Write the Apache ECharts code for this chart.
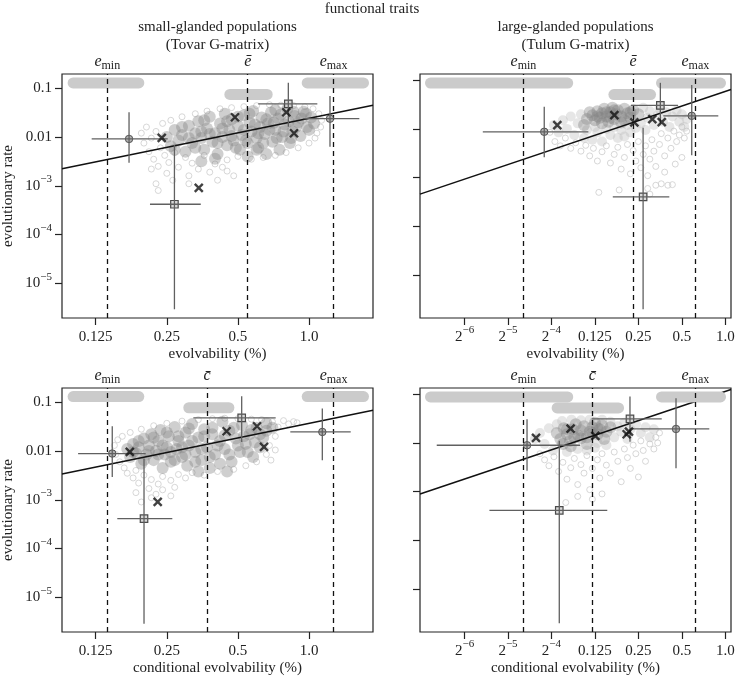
<!DOCTYPE html>
<html><head><meta charset="utf-8">
<script src="https://cdn.jsdelivr.net/npm/echarts@6/dist/echarts.min.js"></script>
<style>html,body{margin:0;padding:0;background:#fff}#c{width:744px;height:676px}</style>
</head><body><div id="c"></div>
<script>
// ---------------- data ----------------
const mainTitle = 'functional traits';
const panelTitles = [['small-glanded populations', '(Tovar G-matrix)'], ['large-glanded populations', '(Tulum G-matrix)']];
const xNames = ['evolvability (%)', 'evolvability (%)', 'conditional evolvability (%)', 'conditional evolvability (%)'];
const yName = 'evolutionary rate';

const ticksXLeft = [0.125, 0.25, 0.5, 1];
const ticksXRight = [0.015625, 0.03125, 0.0625, 0.125, 0.25, 0.5, 1];
const ticksY = [1e-5, 1e-4, 1e-3, 0.01, 0.1];

const xRangeLeft = [0.0900, 1.866];
const xRangeRight = [0.00768, 1.0947];
const yRangeLeft = [1.94e-6, 0.196];
const yRangeRight = [1.33e-6, 0.1335];

const vLabelsE = ['e_min', 'ē', 'e_max'];
const vLabelsC = ['e_min', 'c̄', 'e_max'];

// [x, y, xLow, xHigh, yLow, yHigh]
const p1Circles = [[0.173, 0.00912, 0.1202, 0.2522, 0.00298, 0.0322], [1.227, 0.02377, 0.946, 1.633, 0.00634, 0.0695]];
const p1Squares = [[0.2693, 0.000418, 0.2122, 0.3481, 2.93e-6, 0.00687], [0.8174, 0.0476, 0.6096, 1.0845, 0.0163, 0.1303]];
const p1Crosses = [[0.238, 0.00957], [0.3414, 0.000902], [0.486, 0.0254], [0.8015, 0.0322], [0.8639, 0.01194]];
const p1Fit = [[0.0900, 0.002244], [1.866, 0.0448]];
const p1VLines = [0.1378, 0.5483, 1.2675];
const p1Bands = [[0.1003, 0.1903, 0.1285], [0.4623, 0.6652, 0.0746], [0.9826, 1.701, 0.1285]];
const p1CloudCore = [[0.25,0.010],[0.26,0.0065],[0.27,0.014],[0.28,0.0085],[0.29,0.011],[0.30,0.005],[0.31,0.017],[0.32,0.0075],[0.33,0.012],[0.34,0.021],[0.35,0.0095],[0.36,0.0055],[0.37,0.015],[0.38,0.026],[0.39,0.008],[0.40,0.012],[0.41,0.0045],[0.42,0.019],[0.43,0.010],[0.44,0.030],[0.45,0.0068],[0.46,0.014],[0.47,0.023],[0.48,0.0085],[0.50,0.017],[0.51,0.0055],[0.52,0.011],[0.53,0.028],[0.55,0.0075],[0.56,0.020],[0.57,0.013],[0.58,0.034],[0.60,0.0095],[0.61,0.006],[0.62,0.016],[0.63,0.025],[0.65,0.0115],[0.66,0.0045],[0.67,0.019],[0.69,0.032],[0.70,0.008],[0.72,0.014],[0.74,0.024],[0.75,0.0055],[0.77,0.010],[0.79,0.018],[0.81,0.038],[0.83,0.0075],[0.85,0.013],[0.87,0.027],[0.90,0.020],[0.92,0.0105],[0.95,0.033],[0.98,0.016],[1.02,0.025],[1.05,0.019],[0.40,0.0036],[0.55,0.004],[0.35,0.0032],
  [0.27,0.0055],[0.29,0.016],[0.31,0.0095],[0.33,0.006],[0.35,0.013],[0.36,0.022],[0.38,0.0115],[0.41,0.0075],[0.43,0.015],[0.45,0.021],[0.47,0.0105],[0.49,0.006],[0.50,0.026],[0.53,0.014],[0.54,0.0085],[0.56,0.030],[0.59,0.018],[0.61,0.012],[0.64,0.0075],[0.66,0.023],[0.68,0.014],[0.71,0.0195],[0.73,0.0095],[0.76,0.029],[0.78,0.013],[0.82,0.021],[0.84,0.0095],[0.88,0.016],[0.93,0.024],[1.0,0.014],[0.97,0.030],[0.86,0.033],[0.72,0.036],[0.60,0.0055]];
const p1CloudHalo = [[0.195,0.012],[0.20,0.0075],[0.205,0.016],[0.21,0.005],[0.215,0.0095],[0.22,0.0035],[0.225,0.013],[0.23,0.0025],[0.235,0.0060],[0.24,0.019],[0.245,0.0042],[0.25,0.0018],[0.255,0.0030],[0.26,0.022],[0.265,0.0013],[0.27,0.0048],[0.28,0.0024],[0.29,0.026],[0.30,0.0038],[0.31,0.0016],[0.32,0.0029],[0.33,0.030],[0.34,0.0022],[0.36,0.0042],[0.37,0.034],[0.38,0.0019],[0.40,0.0028],[0.42,0.038],[0.43,0.0024],[0.45,0.0034],[0.47,0.040],[0.48,0.0016],[0.50,0.0040],[0.53,0.042],[0.57,0.0035],[0.60,0.044],[0.64,0.0038],[0.68,0.046],[0.72,0.0042],[0.76,0.045],[0.80,0.0048],[0.86,0.044],[0.90,0.0060],[0.96,0.042],[1.0,0.0075],[1.04,0.038],[1.08,0.012],[1.10,0.030],[1.13,0.022],[1.12,0.016],[1.06,0.0095],[0.215,0.0022],[0.225,0.0011],[0.23,0.0008],[0.31,0.0011],[0.41,0.0013],[0.45,0.0020]];

const p2Circles = [[0.0557, 0.00873, 0.02091, 0.1126, 0.00261, 0.02838], [0.5853, 0.01854, 0.3717, 0.8941, 0.0029, 0.079]];
const p2Squares = [[0.3549, 0.03034, 0.2222, 0.470, 0.01297, 0.0881], [0.2695, 0.000406, 0.1662, 0.4093, 2.0e-6, 0.01055]];
const p2Crosses = [[0.0686, 0.01197], [0.1704, 0.01919], [0.2343, 0.01358], [0.3121, 0.01589], [0.3628, 0.01377]];
const p2Fit = [[0.00768, 0.000461], [1.0947, 0.0644]];
const p2VLines = [0.03685, 0.2306, 0.6236];
const p2Bands = [[0.00908, 0.081, 0.0868], [0.1691, 0.3035, 0.0505], [0.3614, 0.926, 0.0868]];
const p2CloudCore = [[0.12,0.019],[0.125,0.015],[0.13,0.023],[0.135,0.017],[0.14,0.021],[0.145,0.026],[0.15,0.018],[0.155,0.014],[0.16,0.022],[0.165,0.027],[0.17,0.016],[0.175,0.020],[0.18,0.024],[0.19,0.018],[0.20,0.026],[0.21,0.021],[0.22,0.017],[0.23,0.024],[0.11,0.016],[0.115,0.022],[0.25,0.020],[0.14,0.013],[0.19,0.0135],[0.105,0.012],[0.13,0.018],[0.16,0.017],[0.17,0.024],[0.20,0.015],[0.22,0.022],[0.15,0.022]];
const p2CloudMid = [[0.065,0.012],[0.07,0.0085],[0.075,0.015],[0.08,0.010],[0.085,0.018],[0.09,0.0075],[0.095,0.013],[0.10,0.020],[0.105,0.0065],[0.11,0.0095],[0.12,0.0060],[0.125,0.011],[0.13,0.0085],[0.14,0.0055],[0.15,0.010],[0.16,0.0075],[0.17,0.011],[0.18,0.0065],[0.19,0.0095],[0.20,0.0070],[0.21,0.012],[0.22,0.0085],[0.24,0.0105],[0.26,0.013],[0.27,0.027],[0.28,0.0095],[0.29,0.017],[0.30,0.023],[0.32,0.012],[0.34,0.019],[0.35,0.026],[0.37,0.014],[0.39,0.022],[0.41,0.011],[0.43,0.018],[0.46,0.024],[0.48,0.014],[0.50,0.020],[0.52,0.011],[0.54,0.016]];
const p2CloudHalo = [[0.061,0.0085],[0.066,0.0055],[0.072,0.0045],[0.078,0.0065],[0.085,0.0040],[0.092,0.0052],[0.10,0.0035],[0.108,0.0046],[0.115,0.0028],[0.122,0.0040],[0.13,0.0022],[0.14,0.0034],[0.15,0.0045],[0.16,0.0020],[0.17,0.0030],[0.18,0.0042],[0.19,0.0015],[0.20,0.0026],[0.21,0.0048],[0.22,0.0012],[0.23,0.0036],[0.24,0.0022],[0.25,0.0055],[0.26,0.0016],[0.27,0.0030],[0.28,0.0045],[0.29,0.0011],[0.30,0.0024],[0.31,0.0060],[0.32,0.0035],[0.33,0.0017],[0.35,0.0048],[0.36,0.0080],[0.38,0.0028],[0.40,0.0065],[0.42,0.0040],[0.44,0.0090],[0.46,0.0055],[0.48,0.0075],[0.50,0.0110],[0.52,0.0065],[0.54,0.0090],[0.133,0.0005],[0.184,0.00056],[0.30,0.00046],[0.33,0.0007],[0.36,0.00075],[0.40,0.0007],[0.43,0.00072],[0.29,0.0006],[0.38,0.0013],[0.45,0.0019],[0.50,0.0026]];

const p3Circles = [[0.1469, 0.00887, 0.1053, 0.2035, 0.00294, 0.0322], [1.1385, 0.0246, 0.8334, 1.5016, 0.00646, 0.0743]];
const p3Squares = [[0.2002, 0.000411, 0.1543, 0.2638, 2.88e-6, 0.0070], [0.5188, 0.0476, 0.3238, 0.7226, 0.01535, 0.1327]];
const p3Crosses = [[0.1743, 0.00957], [0.2288, 0.000902], [0.4479, 0.0254], [0.6023, 0.0322], [0.6449, 0.0121]];
const p3Fit = [[0.0900, 0.00338], [1.866, 0.0686]];
const p3VLines = [0.1378, 0.3725, 1.2675];
const p3Bands = [[0.1003, 0.1903, 0.1309], [0.3098, 0.4579, 0.0771], [0.9826, 1.701, 0.1309]];
const p3CloudCore = [[0.17,0.011],[0.175,0.0075],[0.18,0.014],[0.185,0.009],[0.19,0.012],[0.195,0.0055],[0.20,0.018],[0.205,0.0085],[0.21,0.013],[0.215,0.022],[0.22,0.0065],[0.225,0.010],[0.23,0.016],[0.235,0.027],[0.24,0.0045],[0.245,0.0085],[0.25,0.012],[0.255,0.020],[0.26,0.0060],[0.27,0.031],[0.275,0.011],[0.28,0.016],[0.29,0.0075],[0.30,0.024],[0.305,0.0050],[0.31,0.013],[0.32,0.036],[0.33,0.0095],[0.34,0.019],[0.35,0.0065],[0.36,0.028],[0.37,0.012],[0.38,0.0045],[0.39,0.022],[0.40,0.0085],[0.42,0.016],[0.43,0.040],[0.44,0.011],[0.46,0.026],[0.47,0.0060],[0.49,0.018],[0.51,0.0095],[0.52,0.034],[0.54,0.014],[0.56,0.022],[0.58,0.0075],[0.60,0.030],[0.62,0.012],[0.64,0.019],[0.66,0.037],[0.45,0.0038],[0.34,0.0038],
  [0.18,0.0095],[0.19,0.016],[0.20,0.0065],[0.21,0.010],[0.22,0.019],[0.23,0.0085],[0.24,0.013],[0.25,0.024],[0.26,0.0095],[0.27,0.0065],[0.28,0.020],[0.29,0.012],[0.30,0.0085],[0.31,0.029],[0.32,0.016],[0.33,0.006],[0.35,0.011],[0.36,0.020],[0.38,0.0075],[0.39,0.030],[0.41,0.013],[0.42,0.0055],[0.44,0.021],[0.46,0.0085],[0.48,0.030],[0.50,0.013],[0.53,0.020],[0.55,0.0095],[0.57,0.027],[0.59,0.015],[0.62,0.022],[0.66,0.026],[0.70,0.030]];
const p3CloudHalo = [[0.150,0.013],[0.152,0.0085],[0.155,0.017],[0.158,0.0060],[0.162,0.020],[0.165,0.0045],[0.17,0.0035],[0.175,0.024],[0.18,0.0028],[0.185,0.0040],[0.19,0.0022],[0.195,0.028],[0.20,0.0032],[0.21,0.0017],[0.215,0.0026],[0.22,0.033],[0.225,0.0013],[0.23,0.0021],[0.24,0.0030],[0.25,0.037],[0.26,0.0025],[0.27,0.0018],[0.28,0.0033],[0.29,0.041],[0.30,0.0028],[0.32,0.0036],[0.34,0.044],[0.36,0.0032],[0.39,0.046],[0.41,0.0038],[0.44,0.047],[0.48,0.0042],[0.50,0.046],[0.54,0.0050],[0.57,0.045],[0.60,0.0060],[0.63,0.044],[0.66,0.0085],[0.68,0.013],[0.70,0.040],[0.72,0.020],[0.74,0.031],[0.78,0.042],[0.82,0.036],[0.86,0.040],[0.89,0.038],[0.72,0.0105],[0.69,0.0065],[0.195,0.0009],[0.185,0.0014],[0.215,0.0011],[0.24,0.0016],[0.26,0.0012]];

const p4Circles = [[0.04233, 0.00895, 0.01003, 0.0987, 0.0027, 0.03055], [0.4554, 0.0193, 0.2186, 0.7744, 0.00302, 0.0824]];
const p4Squares = [[0.2186, 0.03097, 0.1188, 0.3628, 0.01062, 0.0889], [0.0708, 0.000415, 0.02324, 0.1522, 2.0e-6, 0.01112]];
const p4Crosses = [[0.04886, 0.01265], [0.0848, 0.01958], [0.1258, 0.0139], [0.2073, 0.01503], [0.2151, 0.01702]];
const p4Fit = [[0.00768, 0.000897], [1.0947, 0.1248]];
const p4VLines = [0.03685, 0.1232, 0.6236];
const p4Bands = [[0.00908, 0.081, 0.0877], [0.0684, 0.1822, 0.0521], [0.3614, 0.926, 0.0877]];
const p4CloudCore = [[0.068,0.016],[0.072,0.012],[0.076,0.020],[0.08,0.015],[0.084,0.011],[0.088,0.019],[0.092,0.024],[0.096,0.014],[0.10,0.018],[0.105,0.022],[0.11,0.013],[0.115,0.017],[0.12,0.021],[0.125,0.026],[0.13,0.015],[0.135,0.019],[0.14,0.023],[0.15,0.017],[0.16,0.021],[0.085,0.0085],[0.11,0.0095],[0.075,0.0095],[0.145,0.012],[0.09,0.013],[0.10,0.0125],[0.12,0.016],[0.08,0.019],[0.13,0.020]];
const p4CloudMid = [[0.048,0.012],[0.052,0.016],[0.056,0.0095],[0.06,0.020],[0.064,0.0070],[0.068,0.024],[0.074,0.028],[0.08,0.0065],[0.086,0.030],[0.095,0.0075],[0.10,0.029],[0.11,0.0070],[0.115,0.030],[0.125,0.0080],[0.13,0.010],[0.14,0.030],[0.15,0.0090],[0.16,0.027],[0.17,0.013],[0.18,0.022],[0.19,0.017],[0.20,0.026],[0.21,0.012],[0.22,0.019],[0.24,0.024],[0.26,0.016],[0.28,0.021],[0.30,0.013],[0.32,0.019]];
const p4CloudHalo = [[0.052,0.0060],[0.056,0.0045],[0.06,0.0034],[0.065,0.0052],[0.07,0.0026],[0.075,0.0040],[0.08,0.0018],[0.085,0.0031],[0.09,0.0048],[0.095,0.0014],[0.10,0.0036],[0.105,0.0024],[0.11,0.0055],[0.115,0.0011],[0.12,0.0030],[0.13,0.0045],[0.135,0.0019],[0.14,0.0060],[0.15,0.0035],[0.16,0.0024],[0.17,0.0065],[0.18,0.0042],[0.19,0.0016],[0.20,0.0075],[0.21,0.0050],[0.22,0.0030],[0.23,0.0090],[0.24,0.0060],[0.25,0.0020],[0.26,0.011],[0.27,0.0070],[0.28,0.0042],[0.30,0.0095],[0.32,0.0075],[0.33,0.013],[0.35,0.016],[0.34,0.0100],[0.0785,0.0006],[0.095,0.0008],[0.14,0.0009],[0.12,0.0007]];

// ---------------- chart ----------------
const SERIF = '"Liberation Serif","DejaVu Serif",serif';
const INK = '#222';
const FS = 15;
const panels = [
  {c: p1Circles, s: p1Squares, x: p1Crosses, fit: p1Fit, v: p1VLines, vl: vLabelsE, b: p1Bands, core: p1CloudCore, mid: [], halo: p1CloudHalo, left: true},
  {c: p2Circles, s: p2Squares, x: p2Crosses, fit: p2Fit, v: p2VLines, vl: vLabelsE, b: p2Bands, core: p2CloudCore, mid: p2CloudMid, halo: p2CloudHalo, left: false},
  {c: p3Circles, s: p3Squares, x: p3Crosses, fit: p3Fit, v: p3VLines, vl: vLabelsC, b: p3Bands, core: p3CloudCore, mid: [], halo: p3CloudHalo, left: true},
  {c: p4Circles, s: p4Squares, x: p4Crosses, fit: p4Fit, v: p4VLines, vl: vLabelsC, b: p4Bands, core: p4CloudCore, mid: p4CloudMid, halo: p4CloudHalo, left: false}
];
const gridPos = [[62, 74], [420, 74], [62, 388], [420, 388]];

const richTick = {
  b: {fontFamily: SERIF, fontSize: FS, color: INK, lineHeight: 24},
  sup: {fontFamily: SERIF, fontSize: 11, color: INK, verticalAlign: 'top', lineHeight: 24}
};
function fmtX(v) {
  if (v >= 0.1) return v >= 1 ? Number(v).toFixed(1) : String(+Number(v).toPrecision(3));
  return '{b|2}{sup|−' + Math.round(-Math.log2(v)) + '}';
}
function fmtY(v) {
  if (v >= 0.009) return String(+Number(v).toPrecision(2));
  return '{b|10}{sup|−' + Math.round(-Math.log10(v)) + '}';
}
function vFmt(lbl) {
  if (lbl.indexOf('_') > 0) { const p = lbl.split('_'); return '{i|' + p[0] + '}{s|' + p[1] + '}'; }
  return '{i|' + lbl + '}';
}

const grids = [], xAxes = [], yAxes = [], series = [];
panels.forEach((p, i) => {
  grids.push({left: gridPos[i][0], top: gridPos[i][1], width: 311, height: 244, show: true,
    borderColor: INK, borderWidth: 1.2, backgroundColor: 'transparent', containLabel: false, outerBoundsMode: 'none'});
  const xt = p.left ? ticksXLeft : ticksXRight;
  const xr = p.left ? xRangeLeft : xRangeRight;
  const yr = p.left ? yRangeLeft : yRangeRight;
  xAxes.push({gridIndex: i, type: 'log', logBase: 2, min: xr[0], max: xr[1],
    axisLine: {show: false}, splitLine: {show: false},
    axisTick: {show: true, length: 7, customValues: xt, lineStyle: {color: INK, width: 1.2}},
    axisLabel: {show: true, customValues: xt, formatter: fmtX, margin: 7, fontFamily: SERIF, fontSize: FS, color: INK, lineHeight: 24, rich: richTick},
    name: xNames[i], nameLocation: 'middle', nameGap: 29, nameMoveOverlap: false,
    nameTextStyle: {fontFamily: SERIF, fontSize: FS, color: INK}});
  yAxes.push({gridIndex: i, type: 'log', logBase: 10, min: yr[0], max: yr[1],
    axisLine: {show: false}, splitLine: {show: false},
    axisTick: {show: true, length: 7, customValues: ticksY, lineStyle: {color: INK, width: 1.2}},
    axisLabel: {show: p.left, customValues: ticksY, formatter: fmtY, margin: 10, fontFamily: SERIF, fontSize: FS, color: INK, lineHeight: 24, rich: richTick},
    name: p.left ? yName : '', nameLocation: 'middle', nameGap: 46, nameMoveOverlap: false,
    nameTextStyle: {fontFamily: SERIF, fontSize: FS, color: INK}});

  const ax = {xAxisIndex: i, yAxisIndex: i};
  series.push(Object.assign({type: 'scatter', z: 1, silent: true, data: p.halo, symbol: 'circle', symbolSize: 6,
    itemStyle: {color: 'rgba(255,255,255,0)', borderColor: '#cdcdcd', borderWidth: 1}}, ax));
  if (p.mid.length) series.push(Object.assign({type: 'scatter', z: 1, silent: true, data: p.mid, symbol: 'circle', symbolSize: 10,
    itemStyle: {color: 'rgba(185,185,185,0.45)', borderWidth: 0}}, ax));
  series.push(Object.assign({type: 'scatter', z: 1, silent: true, data: p.core, symbol: 'circle', symbolSize: 12,
    itemStyle: {color: 'rgba(130,130,130,0.48)', borderWidth: 0}}, ax));
  series.push(Object.assign({type: 'line', z: 2, silent: true, data: p.fit, showSymbol: false, symbol: 'none',
    lineStyle: {color: '#111', width: 1.5},
    markLine: {silent: true, z: 4, symbol: ['none', 'none'], animation: false,
      lineStyle: {color: '#111', width: 1.3, type: [5, 4]},
      label: {show: true, position: 'end', distance: 2, color: INK,
        rich: {i: {fontFamily: SERIF, fontStyle: 'italic', fontSize: 16, color: INK, lineHeight: 20},
               s: {fontFamily: SERIF, fontSize: 12, color: INK, verticalAlign: 'bottom'}}},
      data: p.v.map((v, k) => ({xAxis: v, label: {formatter: vFmt(p.vl[k])}}))}}, ax));
  series.push(Object.assign({type: 'custom', z: 3, silent: true, data: p.b, encode: {x: [0, 1], y: 2},
    renderItem: (params, api) => {
      const a = api.coord([api.value(0), api.value(2)]);
      const b = api.coord([api.value(1), api.value(2)]);
      return {type: 'line', shape: {x1: a[0], y1: a[1], x2: b[0], y2: b[1]},
        style: {stroke: '#cbcbcb', lineWidth: 11, lineCap: 'round'}};
    }}, ax));
  series.push(Object.assign({type: 'scatter', z: 5, silent: true, data: p.c.map(d => [d[0], d[1]]), symbol: 'circle', symbolSize: 7.5,
    itemStyle: {color: '#a0a0a0', borderColor: '#333', borderWidth: 1}}, ax));
  series.push(Object.assign({type: 'scatter', z: 5, silent: true, data: p.s.map(d => [d[0], d[1]]), symbol: 'rect', symbolSize: 7.5,
    itemStyle: {color: '#cfcfcf', borderColor: '#222', borderWidth: 1.2}}, ax));
  series.push(Object.assign({type: 'custom', z: 6, silent: true, data: p.c.concat(p.s), encode: {x: 0, y: 1},
    renderItem: (params, api) => {
      const x = api.value(0), y = api.value(1);
      const h1 = api.coord([api.value(2), y]), h2 = api.coord([api.value(3), y]);
      const v1 = api.coord([x, api.value(4)]), v2 = api.coord([x, api.value(5)]);
      const st = {stroke: '#606060', lineWidth: 1.3};
      return {type: 'group', children: [
        {type: 'line', shape: {x1: h1[0], y1: h1[1], x2: h2[0], y2: h2[1]}, style: st},
        {type: 'line', shape: {x1: v1[0], y1: v1[1], x2: v2[0], y2: v2[1]}, style: st}]};
    }}, ax));
  series.push(Object.assign({type: 'scatter', z: 7, silent: true, data: p.x, symbol: 'path://M0,0L10,10M10,0L0,10', symbolSize: 8,
    itemStyle: {color: 'none', borderColor: '#111', borderWidth: 2.4}}, ax));
});

const txt = (t, x, y) => ({type: 'text', x: x, y: y, silent: true,
  style: {text: t, font: FS + 'px ' + SERIF, fill: INK, align: 'center', verticalAlign: 'middle', textAlign: 'center', textVerticalAlign: 'middle'}});

const chart = echarts.init(document.getElementById('c'), null, {renderer: 'canvas'});
chart.setOption({
  animation: false,
  backgroundColor: '#fff',
  textStyle: {fontFamily: SERIF},
  grid: grids, xAxis: xAxes, yAxis: yAxes, series: series,
  graphic: [
    txt(mainTitle, 372, 9),
    txt(panelTitles[0][0], 217.5, 27), txt(panelTitles[0][1], 217.5, 45),
    txt(panelTitles[1][0], 575.5, 27), txt(panelTitles[1][1], 575.5, 45)
  ]
});
</script></body></html>
